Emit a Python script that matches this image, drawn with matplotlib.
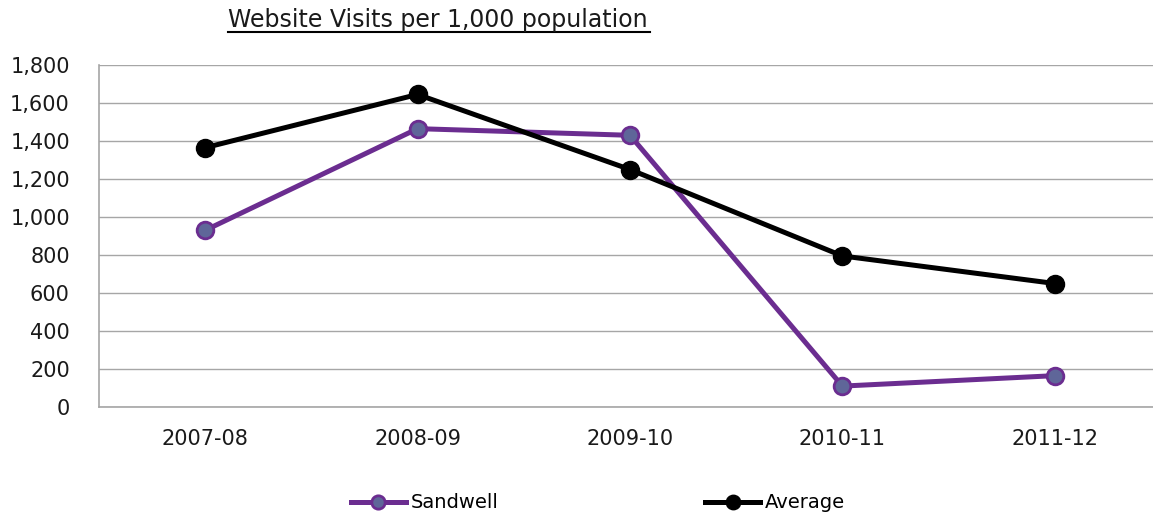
import matplotlib.pyplot as plt
from matplotlib.ticker import FuncFormatter

years = ["2007-08", "2008-09", "2009-10", "2010-11", "2011-12"]
sandwell = [930, 1465, 1430, 110, 165]
average = [1365, 1645, 1250, 795, 650]

PURPLE = "#6B2D90"
SLATE = "#5F6699"
GRID = "#A6A6A6"

plt.rcParams["font.family"] = ["DejaVu Sans"]

fig = plt.figure(figsize=(11.53, 5.18), dpi=100)
ax = fig.add_axes([99 / 1153, 111 / 518, 1062 / 1153, 342 / 518])

x = list(range(len(years)))
ax.plot(x, sandwell, color=PURPLE, lw=3.6, marker="o", ms=12,
        mfc=SLATE, mec=PURPLE, mew=2, label="Sandwell", zorder=3)
ax.plot(x, average, color="black", lw=3.6, marker="o", ms=13,
        mfc="black", mec="black", label="Average", zorder=4)

ax.set_xlim(-0.5, len(years) - 0.5)
ax.set_ylim(0, 1800)
ax.set_yticks(range(0, 1801, 200))
ax.yaxis.set_major_formatter(FuncFormatter(lambda v, p: f"{int(v):,}"))
ax.set_xticks(x)
ax.set_xticklabels(years)
ax.tick_params(axis="both", length=0, labelsize=15, colors="#1a1a1a")
ax.tick_params(axis="y", pad=21)
ax.tick_params(axis="x", pad=16)

ax.grid(axis="y", color=GRID, lw=1)
ax.set_axisbelow(True)
for side in ["top", "right"]:
    ax.spines[side].set_visible(False)
for side in ["left", "bottom"]:
    ax.spines[side].set_color(GRID)
    ax.spines[side].set_linewidth(1.2)

fig.text(228 / 1153, 1 - 20 / 518, "Website Visits per 1,000 population",
         ha="left", va="center", fontsize=17, color="#1a1a1a")
# underline
fig.add_artist(plt.Line2D([228 / 1153, 650 / 1153], [1 - 32 / 518, 1 - 32 / 518],
                          color="black", lw=1.5))

fig.legend(loc="center", bbox_to_anchor=(598 / 1153, 15 / 518), ncol=2,
           frameon=False, fontsize=14, handlelength=2.85, handletextpad=0.25,
           columnspacing=10.6, markerscale=0.8)

fig.savefig("out.png", dpi=100)
